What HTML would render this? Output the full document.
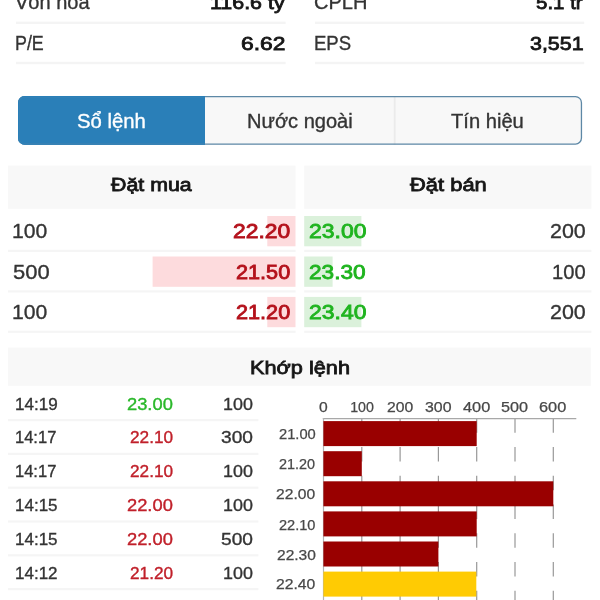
<!DOCTYPE html>
<html lang="vi">
<head>
<meta charset="utf-8">
<title>Sổ lệnh</title>
<style>
html,body{margin:0;padding:0;}
body{width:600px;height:600px;overflow:hidden;background:#fff;position:relative;
  font-family:"Liberation Sans",sans-serif;color:#2a2a2a;}
.abs{position:absolute;}
.t{position:absolute;white-space:nowrap;line-height:1;transform-origin:0 0;}
.n{-webkit-text-stroke:0.35px currentColor;}
.s{-webkit-text-stroke:0.8px currentColor;}
.c{-webkit-text-stroke:0.25px currentColor;}
</style>
</head>
<body>
<svg class="abs" style="left:0;top:0;" width="600" height="600" viewBox="0 0 600 600">
  <defs>
    <clipPath id="segclip"><rect x="18" y="96" width="564.1" height="48.7" rx="6.6"/></clipPath>
  </defs>
  <!-- top info separators -->
  <g fill="#f4f4f4">
    <rect x="16" y="21.6" width="269.6" height="2.4"/>
    <rect x="315" y="21.6" width="269.2" height="2.4"/>
    <rect x="16" y="61.8" width="269.6" height="2.4"/>
    <rect x="315" y="61.8" width="269.2" height="2.4"/>
  </g>

  <!-- segmented control -->
  <g clip-path="url(#segclip)">
    <rect x="17" y="95" width="566" height="51" fill="#f8f8f8"/>
    <rect x="17" y="95" width="188" height="51" fill="#2a7fb8"/>
    <rect x="393.8" y="95" width="1.8" height="51" fill="#ebebeb"/>
  </g>
  <rect x="18.65" y="96.65" width="562.8" height="47.4" rx="6" fill="none" stroke="#5d88a6" stroke-width="1.3"/>
  <path d="M205 96.65 H24.65 A6 6 0 0 0 18.65 102.65 V138.05 A6 6 0 0 0 24.65 144.05 H205" fill="none" stroke="#2a7fb8" stroke-width="1.3"/>

  <!-- order book headers -->
  <g fill="#f8f8f8">
    <rect x="8" y="165.6" width="287.6" height="43.2"/>
    <rect x="304.2" y="165.6" width="287.2" height="43.2"/>
    <rect x="8" y="347.6" width="582.8" height="38.2"/>
  </g>

  <!-- buy / sell volume bars -->
  <g fill="#fddbdd">
    <rect x="267.3" y="216" width="28.2" height="30.3"/>
    <rect x="152.6" y="256.5" width="142.9" height="30.3"/>
    <rect x="267.3" y="296.9" width="28.2" height="30.3"/>
  </g>
  <g fill="#dbf1db">
    <rect x="304.2" y="216" width="57.2" height="30.3"/>
    <rect x="304.2" y="256.5" width="28.4" height="30.3"/>
    <rect x="304.2" y="296.9" width="57.2" height="30.3"/>
  </g>

  <!-- row separators -->
  <g fill="#f5f5f5">
    <rect x="8" y="249.8" width="287.6" height="2.2"/>
    <rect x="8" y="290.3" width="287.6" height="2.2"/>
    <rect x="8" y="330.7" width="287.6" height="2.2"/>
    <rect x="304.2" y="249.8" width="287.2" height="2.2"/>
    <rect x="304.2" y="290.3" width="287.2" height="2.2"/>
    <rect x="304.2" y="330.7" width="287.2" height="2.2"/>
    <rect x="8" y="419.0" width="250.4" height="2.2"/>
    <rect x="8" y="452.8" width="250.4" height="2.2"/>
    <rect x="8" y="486.6" width="250.4" height="2.2"/>
    <rect x="8" y="520.4" width="250.4" height="2.2"/>
    <rect x="8" y="554.2" width="250.4" height="2.2"/>
    <rect x="8" y="588.0" width="250.4" height="2.2"/>
  </g>

  <!-- chart -->
  <g stroke="#989898" stroke-width="1.2" stroke-dasharray="14.5 14.25" fill="none">
    <line x1="361.8" y1="418.3" x2="361.8" y2="600"/>
    <line x1="400.1" y1="418.3" x2="400.1" y2="600"/>
    <line x1="438.4" y1="418.3" x2="438.4" y2="600"/>
    <line x1="476.7" y1="418.3" x2="476.7" y2="600"/>
    <line x1="515" y1="418.3" x2="515" y2="600"/>
    <line x1="553.3" y1="418.3" x2="553.3" y2="600"/>
  </g>
  <line x1="322.8" y1="418.6" x2="576.3" y2="418.6" stroke="#a8a8a8" stroke-width="1.3"/>
  <line x1="323.5" y1="418" x2="323.5" y2="600" stroke="#b4b4b4" stroke-width="1.2"/>
  <g fill="#990000">
    <rect x="323.4" y="421.1" width="153.3" height="25"/>
    <rect x="323.4" y="451.2" width="38.4" height="25"/>
    <rect x="323.4" y="481.3" width="229.9" height="25"/>
    <rect x="323.4" y="511.4" width="153.3" height="25"/>
    <rect x="323.4" y="541.5" width="115.0" height="25"/>
  </g>
  <rect x="323.4" y="571.6" width="152.9" height="25" fill="#ffcb03"/>
</svg>

<div class="t n" style="left:14.87px;top:-9px;font-size:21px;color:#343434;transform:scaleX(0.9540);">Vốn hóa</div>
<div class="t s" style="left:209.51px;top:-7px;font-size:19.2px;color:#161616;transform:scaleX(1.1159);">116.6 tỷ</div>
<div class="t n" style="left:314.43px;top:-9px;font-size:21px;color:#343434;transform:scaleX(0.9540);">CPLH</div>
<div class="t s" style="left:536.19px;top:-7px;font-size:19.2px;color:#161616;transform:scaleX(1.0670);">5.1 tr</div>
<div class="t n" style="left:15.06px;top:32px;font-size:21px;color:#343434;transform:scaleX(0.8492);">P/E</div>
<div class="t s" style="left:240.61px;top:34px;font-size:19.2px;color:#161616;transform:scaleX(1.1893);">6.62</div>
<div class="t n" style="left:314.31px;top:32px;font-size:21px;color:#343434;transform:scaleX(0.8834);">EPS</div>
<div class="t s" style="left:530.18px;top:34px;font-size:19.2px;color:#161616;transform:scaleX(1.1165);">3,551</div>
<div class="t n" style="left:77.34px;top:111px;font-size:20px;color:#fff;transform:scaleX(1.0160);">Sổ lệnh</div>
<div class="t n" style="left:246.81px;top:111px;font-size:20px;color:#343434;transform:scaleX(1.0028);">Nước ngoài</div>
<div class="t n" style="left:451.16px;top:111px;font-size:20px;color:#343434;transform:scaleX(1.0073);">Tín hiệu</div>
<div class="t s" style="left:111.36px;top:176px;font-size:18.5px;color:#161616;transform:scaleX(1.1534);">Đặt mua</div>
<div class="t s" style="left:409.77px;top:176px;font-size:18.5px;color:#161616;transform:scaleX(1.1850);">Đặt bán</div>
<div class="t n" style="left:12.45px;top:220px;font-size:21px;color:#343434;transform:scaleX(1.0074);">100</div>
<div class="t s" style="left:232.80px;top:222px;font-size:19.3px;color:#b4111b;transform:scaleX(1.1863);">22.20</div>
<div class="t n" style="left:13.30px;top:261px;font-size:21px;color:#343434;transform:scaleX(1.0465);">500</div>
<div class="t s" style="left:235.83px;top:263px;font-size:19.3px;color:#b4111b;transform:scaleX(1.1234);">21.50</div>
<div class="t n" style="left:12.45px;top:301px;font-size:21px;color:#343434;transform:scaleX(1.0074);">100</div>
<div class="t s" style="left:235.83px;top:303px;font-size:19.3px;color:#b4111b;transform:scaleX(1.1234);">21.20</div>
<div class="t s" style="left:309.20px;top:222px;font-size:19.3px;color:#1fb41f;transform:scaleX(1.1905);">23.00</div>
<div class="t n" style="left:549.77px;top:220px;font-size:21px;color:#343434;transform:scaleX(1.0212);">200</div>
<div class="t s" style="left:309.21px;top:263px;font-size:19.3px;color:#1fb41f;transform:scaleX(1.1737);">23.30</div>
<div class="t n" style="left:551.91px;top:261px;font-size:21px;color:#343434;transform:scaleX(0.9597);">100</div>
<div class="t s" style="left:309.20px;top:303px;font-size:19.3px;color:#1fb41f;transform:scaleX(1.1905);">23.40</div>
<div class="t n" style="left:549.77px;top:301px;font-size:21px;color:#343434;transform:scaleX(1.0212);">200</div>
<div class="t s" style="left:249.76px;top:358px;font-size:19px;color:#161616;transform:scaleX(1.1433);">Khớp lệnh</div>
<div class="t n" style="left:15.11px;top:397px;font-size:16.6px;color:#343434;transform:scaleX(1.0279);">14:19</div>
<div class="t n" style="left:126.93px;top:397px;font-size:16.6px;color:#2ab82a;transform:scaleX(1.1032);">23.00</div>
<div class="t n" style="left:222.77px;top:397px;font-size:16.6px;color:#343434;transform:scaleX(1.0791);">100</div>
<div class="t n" style="left:15.14px;top:430px;font-size:16.6px;color:#343434;transform:scaleX(0.9955);">14:17</div>
<div class="t n" style="left:129.67px;top:430px;font-size:16.6px;color:#c0202a;transform:scaleX(1.0369);">22.10</div>
<div class="t n" style="left:220.70px;top:430px;font-size:16.6px;color:#343434;transform:scaleX(1.1544);">300</div>
<div class="t n" style="left:15.14px;top:464px;font-size:16.6px;color:#343434;transform:scaleX(0.9955);">14:17</div>
<div class="t n" style="left:129.67px;top:464px;font-size:16.6px;color:#c0202a;transform:scaleX(1.0369);">22.10</div>
<div class="t n" style="left:222.77px;top:464px;font-size:16.6px;color:#343434;transform:scaleX(1.0791);">100</div>
<div class="t n" style="left:15.12px;top:498px;font-size:16.6px;color:#343434;transform:scaleX(1.0254);">14:15</div>
<div class="t n" style="left:126.93px;top:498px;font-size:16.6px;color:#c0202a;transform:scaleX(1.1032);">22.00</div>
<div class="t n" style="left:222.77px;top:498px;font-size:16.6px;color:#343434;transform:scaleX(1.0791);">100</div>
<div class="t n" style="left:15.12px;top:532px;font-size:16.6px;color:#343434;transform:scaleX(1.0254);">14:15</div>
<div class="t n" style="left:126.93px;top:532px;font-size:16.6px;color:#c0202a;transform:scaleX(1.1032);">22.00</div>
<div class="t n" style="left:220.70px;top:532px;font-size:16.6px;color:#343434;transform:scaleX(1.1544);">500</div>
<div class="t n" style="left:15.12px;top:566px;font-size:16.6px;color:#343434;transform:scaleX(1.0254);">14:12</div>
<div class="t n" style="left:129.67px;top:566px;font-size:16.6px;color:#c0202a;transform:scaleX(1.0369);">21.20</div>
<div class="t n" style="left:222.77px;top:566px;font-size:16.6px;color:#343434;transform:scaleX(1.0791);">100</div>
<div class="t c" style="left:319.05px;top:400px;font-size:14.2px;color:#484848;transform:scaleX(1.1020);">0</div>
<div class="t c" style="left:350.14px;top:400px;font-size:14.2px;color:#484848;transform:scaleX(1.0000);">100</div>
<div class="t c" style="left:386.70px;top:400px;font-size:14.2px;color:#484848;transform:scaleX(1.1081);">200</div>
<div class="t c" style="left:424.94px;top:400px;font-size:14.2px;color:#484848;transform:scaleX(1.1190);">300</div>
<div class="t c" style="left:462.89px;top:400px;font-size:14.2px;color:#484848;transform:scaleX(1.1512);">400</div>
<div class="t c" style="left:501.44px;top:400px;font-size:14.2px;color:#484848;transform:scaleX(1.1406);">500</div>
<div class="t c" style="left:539.18px;top:400px;font-size:14.2px;color:#484848;transform:scaleX(1.1517);">600</div>
<div class="t c" style="left:278.74px;top:427px;font-size:14.2px;color:#484848;transform:scaleX(1.0355);">21.00</div>
<div class="t c" style="left:279.45px;top:457px;font-size:14.2px;color:#484848;transform:scaleX(1.0154);">21.20</div>
<div class="t c" style="left:276.40px;top:487px;font-size:14.2px;color:#484848;transform:scaleX(1.1017);">22.00</div>
<div class="t c" style="left:279.04px;top:518px;font-size:14.2px;color:#484848;transform:scaleX(1.0269);">22.10</div>
<div class="t c" style="left:276.61px;top:548px;font-size:14.2px;color:#484848;transform:scaleX(1.0959);">22.30</div>
<div class="t c" style="left:276.20px;top:577px;font-size:14.2px;color:#484848;transform:scaleX(1.1074);">22.40</div>
</body>
</html>
